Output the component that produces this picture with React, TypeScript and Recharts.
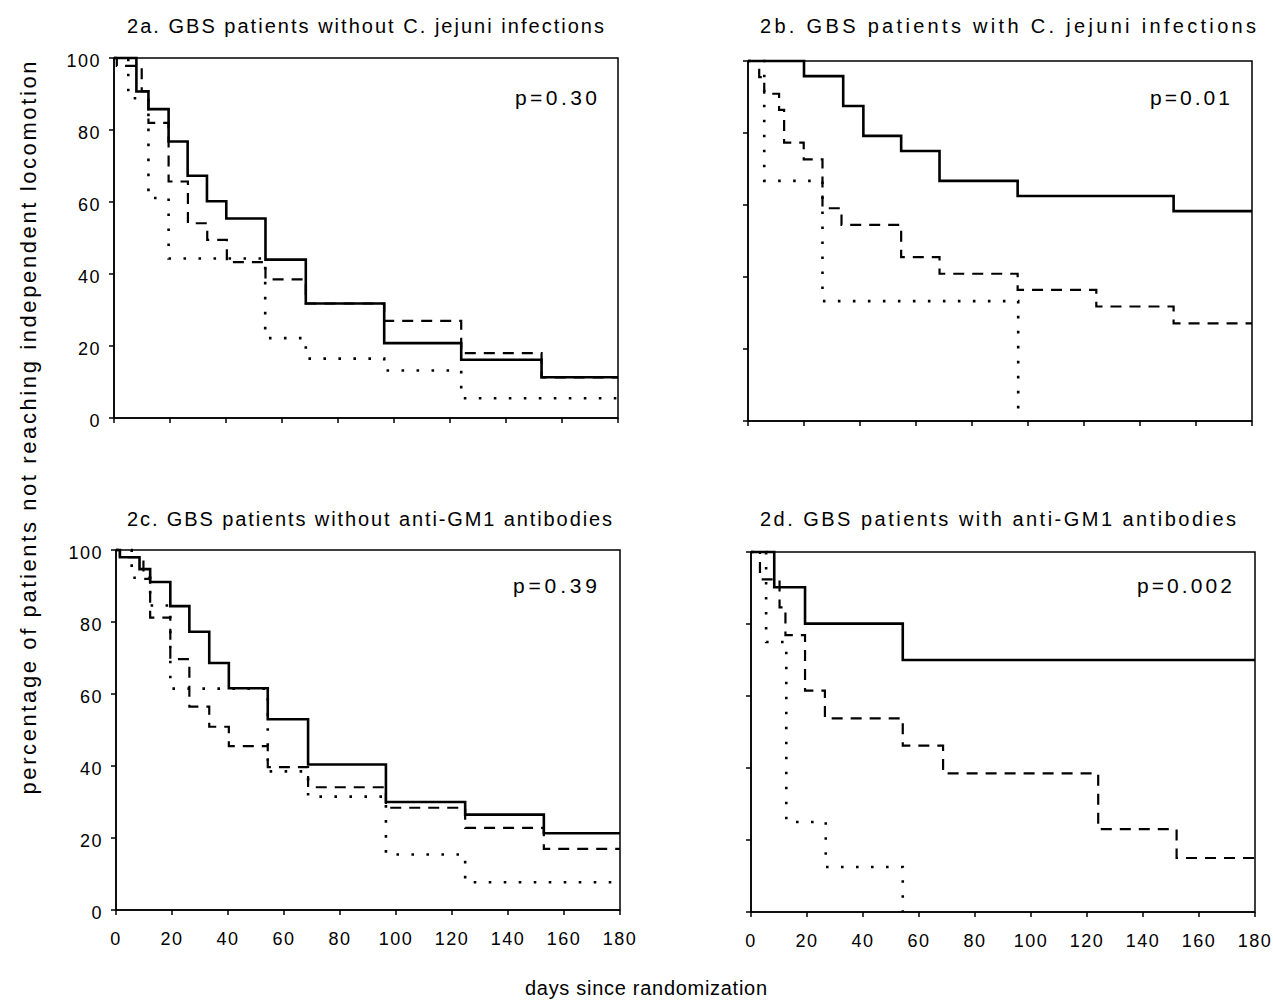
import { Line, LineChart, ReferenceArea, XAxis, YAxis } from 'recharts';

const FONT = '"Liberation Sans", Arial, Helvetica, sans-serif';

const X_TICKS = [0, 20, 40, 60, 80, 100, 120, 140, 160, 180];
const Y_TICKS = [0, 20, 40, 60, 80, 100];

// 2a. without C. jejuni
const days2aSolid = [0, 8, 12.3, 19.5, 26.3, 33.2, 40.1, 54.1, 68.5, 96.5, 124, 152.7, 180];
const vals2aSolid = [100, 90.7, 85.8, 76.8, 67.3, 60.2, 55.4, 44, 31.8, 20.8, 16.2, 11.3, 11.3];
const days2aDashed = [0, 1, 9.9, 12.3, 19.5, 26.4, 33.3, 40.3, 54.1, 68.5, 96.5, 124, 152.7, 180];
const vals2aDashed = [100, 97.8, 90.8, 82, 65.7, 54.1, 49.5, 43.3, 38.5, 31.8, 27, 18, 11.3, 11.3];
const days2aDotted = [0, 5.1, 12.3, 19.5, 54, 68.5, 96.5, 124, 180];
const vals2aDotted = [100, 88.8, 61.1, 44.3, 22.2, 16.5, 13.2, 5.5, 5.5];

// 2b. with C. jejuni
const days2bSolid = [0, 20, 34, 41.2, 54.7, 68.4, 96.3, 152, 180];
const vals2bSolid = [100, 95.8, 87.5, 79.2, 75, 66.7, 62.5, 58.3, 58.3];
const days2bDashed = [0, 4, 5.8, 11.1, 12.9, 19.9, 26.6, 33.4, 54.7, 68.4, 96.3, 124.4, 152, 180];
const vals2bDashed = [100, 95.5, 90.9, 86.4, 77.3, 72.7, 59.1, 54.5, 45.5, 40.9, 36.4, 31.8, 27.1, 27.1];
const days2bDotted = [0, 5.8, 26.6, 96.5];
const vals2bDotted = [100, 66.7, 33.3, 0];

// 2c. without anti-GM1
const days2cSolid = [0, 1.4, 8.4, 12.2, 19.4, 26.2, 33.3, 40.3, 54.2, 68.6, 96.4, 124.7, 152.8, 180];
const vals2cSolid = [100, 98, 94.7, 91.1, 84.4, 77.3, 68.6, 61.6, 53, 40.4, 30, 26.5, 21.3, 21.3];
const days2cDashed = [0, 1.4, 9.8, 12.2, 19.4, 26.2, 33.3, 40.3, 54.2, 68.6, 96.4, 124.7, 152.8, 180];
const vals2cDashed = [100, 98, 92, 81.2, 69.7, 56.5, 50.9, 45.5, 39.7, 34.1, 28.4, 22.8, 17, 17];
const days2cDotted = [0, 5.6, 12.2, 19.4, 54.2, 68.6, 96.4, 124.7, 180];
const vals2cDotted = [100, 92.3, 84.6, 61.5, 38.5, 31.5, 15.4, 7.7, 7.7];

// 2d. with anti-GM1
const days2dSolid = [0, 8.3, 19.3, 54.2, 180];
const vals2dSolid = [100, 90.2, 80.1, 70, 70];
const days2dDashed = [0, 3.2, 10.2, 12.3, 19.3, 26.4, 54.2, 68.6, 124, 152, 180];
const vals2dDashed = [100, 92.4, 84.6, 76.9, 61.5, 53.8, 46.2, 38.5, 23, 15, 15];
const days2dDotted = [0, 5.4, 12.6, 26.7, 54.2];
const vals2dDotted = [100, 75, 25, 12.5, 0];

const zip = (days: number[], vals: number[]) => days.map((d, i) => ({ day: d, v: vals[i] }));

type Panel = {
  left: number;
  top: number;
  showYLabels: boolean;
  showXLabels: boolean;
  solid: { day: number; v: number }[];
  dashed: { day: number; v: number }[];
  dotted: { day: number; v: number }[];
};

const PLOT_W = 504;
const PLOT_H = 360;
const Y_AXIS_W = 60;
const M_TOP = 10;
const M_RIGHT = 30;

const panels: Panel[] = [
  { left: 114, top: 58, showYLabels: true, showXLabels: false, solid: zip(days2aSolid, vals2aSolid), dashed: zip(days2aDashed, vals2aDashed), dotted: zip(days2aDotted, vals2aDotted) },
  { left: 748, top: 61, showYLabels: false, showXLabels: false, solid: zip(days2bSolid, vals2bSolid), dashed: zip(days2bDashed, vals2bDashed), dotted: zip(days2bDotted, vals2bDotted) },
  { left: 116, top: 550, showYLabels: true, showXLabels: true, solid: zip(days2cSolid, vals2cSolid), dashed: zip(days2cDashed, vals2cDashed), dotted: zip(days2cDotted, vals2cDotted) },
  { left: 751, top: 552, showYLabels: false, showXLabels: true, solid: zip(days2dSolid, vals2dSolid), dashed: zip(days2dDashed, vals2dDashed), dotted: zip(days2dDotted, vals2dDotted) },
];

const tickStyle = { fontSize: 18, fill: '#000', fontFamily: FONT, letterSpacing: 1.5 };
const blank = () => '';

function KMPanel({ p }: { p: Panel }) {
  return (
    <div style={{ position: 'absolute', left: p.left - Y_AXIS_W, top: p.top - M_TOP }}>
      <LineChart
        width={Y_AXIS_W + PLOT_W + M_RIGHT}
        height={M_TOP + PLOT_H + 45}
        margin={{ top: M_TOP, right: M_RIGHT, bottom: 0, left: 0 }}
      >
        <XAxis
          type="number"
          dataKey="day"
          domain={[0, 180]}
          ticks={X_TICKS}
          interval={0}
          allowDataOverflow
          height={45}
          stroke="#000"
          strokeWidth={1.5}
          tickSize={5}
          tickMargin={17}
          tick={tickStyle}
          tickFormatter={p.showXLabels ? undefined : blank}
        />
        <YAxis
          type="number"
          domain={[0, 100]}
          ticks={Y_TICKS}
          interval={0}
          width={Y_AXIS_W}
          stroke="#000"
          strokeWidth={1.5}
          tickSize={5}
          tickMargin={8}
          tick={{ ...tickStyle, dy: 3 }}
          tickFormatter={p.showYLabels ? undefined : blank}
        />
        <ReferenceArea x1={0} x2={180} y1={0} y2={100} fill="none" stroke="#000" strokeWidth={1.5} />
        <Line data={p.dotted} dataKey="v" type="stepAfter" stroke="#000" strokeWidth={2.6} strokeDasharray="2.6 12.4" dot={false} isAnimationActive={false} />
        <Line data={p.dashed} dataKey="v" type="stepAfter" stroke="#000" strokeWidth={2.2} strokeDasharray="11 8" dot={false} isAnimationActive={false} />
        <Line data={p.solid} dataKey="v" type="stepAfter" stroke="#000" strokeWidth={2.6} dot={false} isAnimationActive={false} />
      </LineChart>
    </div>
  );
}

const titles = [
  { text: '2a. GBS patients without C. jejuni infections', x: 127, y: 33, w: 477 },
  { text: '2b. GBS patients with C. jejuni infections', x: 760, y: 33, w: 496 },
  { text: '2c. GBS patients without anti-GM1 antibodies', x: 127, y: 526, w: 485 },
  { text: '2d. GBS patients with anti-GM1 antibodies', x: 760, y: 526, w: 476 },
];

const pValues = [
  { text: 'p=0.30', x: 515, y: 105, w: 82 },
  { text: 'p=0.01', x: 1150, y: 105, w: 80 },
  { text: 'p=0.39', x: 513, y: 593, w: 84 },
  { text: 'p=0.002', x: 1137, y: 593, w: 95 },
];

export default function App() {
  return (
    <div style={{ position: 'absolute', left: 0, top: 0, width: 1273, height: 1004, background: '#fff', fontFamily: FONT }}>
      {panels.map((p, i) => (
        <KMPanel key={i} p={p} />
      ))}
      <svg width={1273} height={1004} style={{ position: 'absolute', left: 0, top: 0, pointerEvents: 'none' }}>
        <g fontFamily={FONT} fill="#000">
          {titles.map((t) => (
            <text key={t.text} x={t.x} y={t.y} fontSize={20} textLength={t.w} lengthAdjust="spacing">
              {t.text}
            </text>
          ))}
          {pValues.map((t) => (
            <text key={t.text} x={t.x} y={t.y} fontSize={21} textLength={t.w} lengthAdjust="spacing">
              {t.text}
            </text>
          ))}
          <text
            x={0}
            y={0}
            fontSize={22}
            textAnchor="middle"
            textLength={733}
            lengthAdjust="spacing"
            transform="translate(36 428) rotate(-90)"
          >
            percentage of patients not reaching independent locomotion
          </text>
          <text x={646} y={995} fontSize={20} textAnchor="middle" textLength={242} lengthAdjust="spacing">
            days since randomization
          </text>
        </g>
      </svg>
    </div>
  );
}
